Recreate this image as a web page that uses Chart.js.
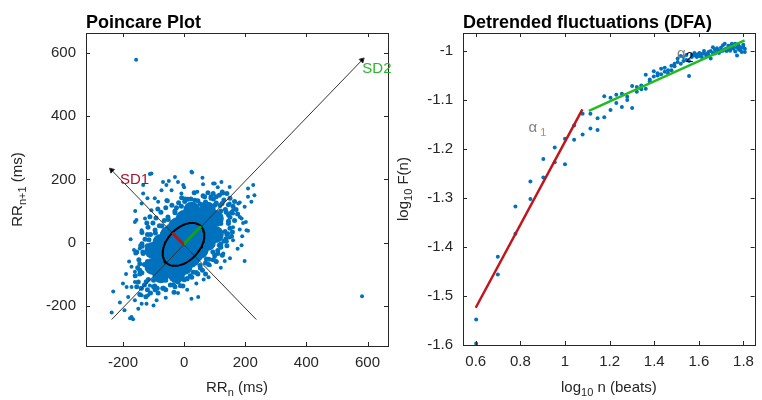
<!DOCTYPE html>
<html>
<head>
<meta charset="utf-8">
<script src="https://cdn.jsdelivr.net/npm/chart.js@4.4.0/dist/chart.umd.min.js"></script>
<style>
body { margin: 0; background: #fff; width: 762px; height: 400px; position: relative; overflow: hidden; }
#poincare { position: absolute; left: 0; top: 0; }
#dfa { position: absolute; left: 390px; top: 0; }
</style>
</head>
<body>
<canvas id="poincare" width="400" height="400"></canvas>
<canvas id="dfa" width="372" height="400"></canvas>
<script>
// ---- Poincare plot data (ms) ----
// solid centre of the cloud
var coreRRn  = [-76, -102, -25, -51, -76, -102, 0, -25, -51, -76, 25, 0, -25, -51, 51, 25, 0, -25, 76, 51, 25, 0, 102, 76, 51, 25, 102, 76];
var coreRRn1 = [-102, -76, -102, -76, -51, -25, -76, -51, -25, 0, -51, -25, 0, 25, -25, 0, 25, 51, 0, 25, 51, 76, 25, 51, 76, 102, 76, 102];
// speckled fringe of the cloud
var ringRRn  = [130, 145, 115, 150, 160, 125, 140, 165, 105, 135, 155, 170, 95, 150, 165, 145, 175, 120,
                150, 140, 130, 120, 110, 95, 80, 60, 125, 140, 155, 105, 70, 45,
                20, 0, -20, -45, -70, -95, -120, -140, -150, -130, -110, -85, -60, -30, -145, -125, -155, -100,
                -145, -152, -148, -135, -142, -128, -138, -118, -102, -92, -112, -76, -60, -40, -18, 2, 22, 45, 62, -55, -86, -122, -155, -160, -130, -120,
                70, 88, 25, 52, 78, -8, 105,
                -138, -110, -81, -53, -25, 4, -4, 25, 53, 81, 110, 138, 88, 145, 124, -88, -145, -124,
                -120, -95, -65, -30, 10, 40, 70, 100, 120, -100, 100, 60, -60, 120, -120,
                -158, -137, -115, -94, -73, -52, -30, -9, 12, 33,
                -33, -12, 9, 30, 52, 73, 94, 115, 137, 158,
                -134, -113, -92, -71, -50, -28, -7, 14, 35,
                -35, -14, 7, 28, 50, 71, 92, 113, 134,
                138, 96, 117, -138, -96, -117, 67, 145, -67, -145];
var ringRRn1 = [135, 120, 150, 140, 115, 160, 155, 130, 145, 105, 95, 105, 155, 80, 70, 60, 90, 100,
                45, 25, 5, -15, -35, -55, -70, -88, -40, -10, 20, -60, -100, -100,
                -105, -118, -125, -135, -145, -150, -150, -145, -125, -135, -160, -160, -150, -140, -165, -172, -140, -140,
                -100, -80, -55, -30, -10, 10, 32, 48, 62, 78, 82, 96, 110, 118, 126, 130, 138, 132, 148, 132, 106, 62, -30, -105, -70, 25,
                128, 140, 112, 122, 158, 142, 125,
                -4, 25, 53, 81, 110, 138, -138, -110, -81, -53, -25, 4, 145, 88, 124, -145, -88, -124,
                -10, 40, 70, 100, -115, -95, -65, -40, -5, -120, 118, 120, -120, 60, -60,
                -33, -12, 9, 30, 52, 73, 94, 115, 137, 158,
                -158, -137, -115, -94, -73, -52, -30, -9, 12, 33,
                -35, -14, 7, 28, 50, 71, 92, 113, 134,
                -134, -113, -92, -71, -50, -28, -7, 14, 35,
                96, 138, 117, -96, -138, -117, 145, 67, -145, -67];
// scattered beats and outliers
var sparseRRn  = [-112, -69, -58, -30, -20, -3, -134, -96, -85, -58, -156, -128, -139, -74, -41, -9, -107,
                  26, 62, 100, 128, 43, 149, 182, 209, 220, 198, 160, 188, 193, 160, 182, 209, 144, 149,
                  -164, -145, -172, -161, -232, -188, -183, -161, -139, -123, -139, -118, -90, -237, -172, -167, -139, -161, -112,
                  188, 133, 198, 106, 64, 46, 24, 160, 128, 100, 84,
                  209, 226, 204, 24, 95, 182, 202, -161, -107, -134, -139, -172, -177,
                  122, 149, 177, 160, 122, -190, -200, -150, -100, -60, -20, 10, 40, 80, 120, 150, 175, 190,
                  -180, -175, -160, -120, -50, 60, 110, 230, -210, -195, 0,
                  -157, 582];
var sparseRRn1 = [217, 192, 182, 208, 192, 182, 155, 140, 129, 134, 71, 76, 39, 166, 166, 155, 102,
                  222, 185, 187, 155, 161, 124, 127, 145, 129, 113, 103, 76, 62, 48, 41, 37, 29, 16,
                  -24, -19, -77, -93, -155, -141, -173, -183, -194, -194, -167, -167, -183, -222, -236, -243, -146, -125, -136,
                  -9, -59, -59, -61, -117, -173, -178, 7, -35, -46, -72,
                  171, 182, 39, 224, 187, 81, 65, 65, 219, 182, 124, -141, -240,
                  155, 176, 124, 92, 192, -100, -130, -210, -200, -175, -160, -150, -130, -110, -80, -50, -20, 20,
                  -60, 10, 100, 140, 195, 205, 175, 150, -190, -215, 175,
                  579, -170];
var poincareTicks = [-200, 0, 200, 400, 600];
var ellCentre = [-2, -6];
var sd1 = 52, sd2 = 81;
var sd1AxisRRn = [236, -237], sd1AxisRRn1 = [-244, 229];
var sd2AxisRRn = [-237, 582], sd2AxisRRn1 = [-244, 578];

// ---- DFA data ----
var dfaLogN = [0.602, 0.602, 0.699, 0.699, 0.778, 0.778, 0.845, 0.845, 0.903, 0.903, 0.954, 0.954, 1.0, 1.0,
  1.041, 1.041, 1.079, 1.079, 1.114, 1.114, 1.146, 1.146, 1.176, 1.176, 1.204, 1.204, 1.230, 1.230, 1.255, 1.255,
  1.279, 1.279, 1.301, 1.301, 1.322, 1.322, 1.342, 1.342, 1.362, 1.362, 1.380, 1.380, 1.398, 1.398, 1.415, 1.415,
  1.431, 1.431, 1.447, 1.447, 1.462, 1.462, 1.477, 1.477, 1.491, 1.491, 1.505, 1.505, 1.519, 1.519, 1.531, 1.531,
  1.544, 1.544, 1.556, 1.556, 1.568, 1.568, 1.580, 1.580, 1.591, 1.591, 1.602, 1.602, 1.613, 1.613, 1.623, 1.623,
  1.633, 1.633, 1.643, 1.643, 1.653, 1.653, 1.663, 1.663, 1.672, 1.672, 1.681, 1.681, 1.690, 1.690, 1.699, 1.699,
  1.708, 1.708, 1.716, 1.716, 1.724, 1.724, 1.732, 1.732, 1.740, 1.740, 1.748, 1.748, 1.756, 1.756, 1.763, 1.763,
  1.771, 1.771, 1.778, 1.778, 1.785, 1.785, 1.792, 1.792, 1.799, 1.799, 1.806, 1.806];
var dfaLogF = [-1.548, -1.597, -1.420, -1.456, -1.317, -1.373, -1.266, -1.302, -1.220, -1.258, -1.197, -1.227, -1.179, -1.231,
  -1.152, -1.181, -1.128, -1.170, -1.128, -1.158, -1.137, -1.161, -1.092, -1.135, -1.095, -1.120, -1.089, -1.106, -1.087, -1.114,
  -1.100, -1.093, -1.071, -1.116, -1.073, -1.083, -1.070, -1.078, -1.048, -1.077, -1.058, -1.062, -1.041, -1.052, -1.050, -1.045,
  -1.036, -1.047, -1.034, -1.042, -1.039, -1.045, -1.039, -1.030, -1.031, -1.026, -1.022, -1.015, -1.026, -1.010, -1.012, -1.020,
  -1.008, -1.018, -1.051, -1.020, -1.012, -1.008, -1.009, -1.004, -1.007, -1.012, -1.010, -1.004, -1.006, -1.012, -1.005, -1.000,
  -1.006, -1.010, -1.002, -1.008, -1.015, -1.000, -0.992, -1.004, -1.005, -0.997, -1.002, -0.994, -0.999, -1.004, -0.993, -1.000,
  -0.999, -0.988, -0.985, -0.996, -0.995, -1.000, -0.989, -0.996, -0.989, -0.999, -0.985, -0.994, -0.995, -0.988, -0.985, -1.001,
  -1.009, -0.992, -0.989, -0.996, -0.992, -0.998, -0.993, -1.002, -0.992, -0.987, -1.002, -0.995];
var alpha1LogN = [0.6, 1.078], alpha1LogF = [-1.524, -1.119];
var alpha2LogN = [1.107, 1.805], alpha2LogF = [-1.122, -0.978];
var dfaXTicks = [0.6, 0.8, 1, 1.2, 1.4, 1.6, 1.8];
var dfaYTicks = [-1.6, -1.5, -1.4, -1.3, -1.2, -1.1, -1];

Chart.defaults.font.family = "'Liberation Sans', Arial, sans-serif";
Chart.defaults.font.size = 15;
Chart.defaults.color = '#262626';
var BLUE = '#0072BD';
var FONT = "'Liberation Sans', Arial, sans-serif";

function xy(xs, ys) { return xs.map(function (v, i) { return { x: v, y: ys[i] }; }); }

function axis(min, max, ticks, size, isX) {
  return {
    type: 'linear', min: min, max: max,
    grid: { display: false, drawTicks: false },
    border: { display: false },
    afterBuildTicks: function (s) { s.ticks = ticks.map(function (v) { return { value: v }; }); },
    afterFit: function (s) { if (isX) s.height = size; else s.width = size; },
    ticks: { padding: isX ? 8 : 10, maxRotation: 0, autoSkip: false, callback: function (v) { return String(v); } }
  };
}

function richText(ctx, parts, x, y, rot) {
  ctx.save();
  ctx.translate(x, y);
  ctx.rotate(rot || 0);
  ctx.textBaseline = 'middle';
  ctx.textAlign = 'left';
  var w = 0;
  parts.forEach(function (p) { ctx.font = p.f; p.w = ctx.measureText(p.t).width; w += p.w; });
  var cx = parts.left ? 0 : -w / 2;
  parts.forEach(function (p) {
    ctx.font = p.f; ctx.fillStyle = p.c || '#262626';
    ctx.fillText(p.t, cx, p.dy || 0); cx += p.w;
  });
  ctx.restore();
}
function main(t, c) { return { t: t, f: '15px ' + FONT, c: c }; }
function sub(t, c) { return { t: t, f: '11px ' + FONT, c: c, dy: 5 }; }

// box and inward tick marks, title, axis titles
function decor(title, xTitle, yTitle, yTitleX) {
  return {
    id: 'decor',
    afterDatasetsDraw: function (chart) {
      var a = chart.chartArea, ctx = chart.ctx, xs = chart.scales.x, ys = chart.scales.y;
      ctx.save();
      ctx.strokeStyle = '#262626';
      ctx.lineWidth = 1;
      ctx.strokeRect(Math.round(a.left) + 0.5, Math.round(a.top) + 0.5, Math.round(a.right - a.left), Math.round(a.bottom - a.top));
      ctx.beginPath();
      xs.ticks.forEach(function (t) {
        var p = Math.round(xs.getPixelForValue(t.value)) + 0.5;
        ctx.moveTo(p, a.bottom); ctx.lineTo(p, a.bottom - 4);
        ctx.moveTo(p, a.top); ctx.lineTo(p, a.top + 4);
      });
      ys.ticks.forEach(function (t) {
        var p = Math.round(ys.getPixelForValue(t.value)) + 0.5;
        ctx.moveTo(a.left, p); ctx.lineTo(a.left + 4, p);
        ctx.moveTo(a.right, p); ctx.lineTo(a.right - 4, p);
      });
      ctx.stroke();
      ctx.fillStyle = '#000';
      ctx.font = 'bold 18px ' + FONT;
      ctx.textBaseline = 'alphabetic';
      ctx.fillText(title, a.left, 28);
      ctx.restore();
      richText(ctx, xTitle, (a.left + a.right) / 2, 387.5, 0);
      richText(ctx, yTitle, yTitleX, (a.top + a.bottom) / 2, -Math.PI / 2);
    }
  };
}

// ellipse drawn from SD1 / SD2
var ellPts = [];
for (var k = 0; k <= 72; k++) {
  var t = k / 72 * 2 * Math.PI, u = sd2 * Math.cos(t), v = sd1 * Math.sin(t);
  ellPts.push({ x: ellCentre[0] + (u - v) / Math.SQRT2, y: ellCentre[1] + (u + v) / Math.SQRT2 });
}
var sd1Seg = [{ x: ellCentre[0], y: ellCentre[1] }, { x: ellCentre[0] - sd1 / Math.SQRT2, y: ellCentre[1] + sd1 / Math.SQRT2 }];
var sd2Seg = [{ x: ellCentre[0], y: ellCentre[1] }, { x: ellCentre[0] + sd2 / Math.SQRT2, y: ellCentre[1] + sd2 / Math.SQRT2 }];

var poincareText = {
  id: 'poincareText',
  afterDatasetsDraw: function (chart) {
    var ctx = chart.ctx, xs = chart.scales.x, ys = chart.scales.y;
    ctx.save();
    ctx.font = '15px ' + FONT;
    ctx.textBaseline = 'middle';
    ctx.fillStyle = '#A2142F';
    ctx.fillText('SD1', xs.getPixelForValue(-210), ys.getPixelForValue(200));
    ctx.fillStyle = '#2DB52D';
    ctx.fillText('SD2', xs.getPixelForValue(583), ys.getPixelForValue(550));
    ctx.restore();
  }
};

function lineSet(data, color, width, order) {
  return { data: data, showLine: true, borderColor: color, backgroundColor: color, borderWidth: width,
           pointRadius: 0, pointHoverRadius: 0, tension: 0, fill: false, order: order };
}
function dotSet(data, r, order) {
  return { data: data, backgroundColor: BLUE, borderWidth: 0, pointRadius: r, pointHoverRadius: r, order: order };
}

var sd2Arrow = lineSet(xy(sd2AxisRRn, sd2AxisRRn1), '#333333', 1, 3);
sd2Arrow.pointRadius = [0, 3]; sd2Arrow.pointStyle = 'triangle'; sd2Arrow.pointRotation = [0, 45]; sd2Arrow.backgroundColor = '#000';
var sd1Arrow = lineSet(xy(sd1AxisRRn, sd1AxisRRn1), '#333333', 1, 3);
sd1Arrow.pointRadius = [0, 3]; sd1Arrow.pointStyle = 'triangle'; sd1Arrow.pointRotation = [0, -45]; sd1Arrow.backgroundColor = '#000';

new Chart(document.getElementById('poincare'), {
  type: 'scatter',
  data: {
    datasets: [
      lineSet(sd1Seg, '#B01818', 3, 0),
      lineSet(sd2Seg, '#16A016', 3, 0),
      lineSet(ellPts, '#000000', 2, 1),
      sd2Arrow, sd1Arrow,
      dotSet(xy(coreRRn, coreRRn1), 8.5, 10),
      dotSet(xy(ringRRn, ringRRn1), 2.5, 11),
      dotSet(xy(sparseRRn, sparseRRn1), 2, 12)
    ]
  },
  options: {
    responsive: false, animation: false, events: [],
    layout: { padding: { left: 0, right: 12, top: 33, bottom: 0 } },
    plugins: { legend: { display: false }, tooltip: { enabled: false } },
    scales: {
      x: axis(-321, 667, poincareTicks, 54, true),
      y: axis(-328, 664, poincareTicks, 86, false)
    }
  },
  plugins: [decor('Poincare Plot', [main('RR'), sub('n'), main(' (ms)')], [main('RR'), sub('n+1'), main(' (ms)')], 18), poincareText]
});

var dfaText = {
  id: 'dfaText',
  afterDatasetsDraw: function (chart) {
    var ctx = chart.ctx, xs = chart.scales.x, ys = chart.scales.y;
    var a1 = [main('\u03B1', '#808080'), sub(' 1', '#D98A2E')]; a1.left = true;
    var a2 = [main('\u03B1', '#808080'), { t: '2', f: '14px ' + FONT, c: '#000', dy: 5 }]; a2.left = true;
    richText(ctx, a1, xs.getPixelForValue(0.837), ys.getPixelForValue(-1.156), 0);
    richText(ctx, a2, xs.getPixelForValue(1.502), ys.getPixelForValue(-1.005), 0);
  }
};

new Chart(document.getElementById('dfa'), {
  type: 'scatter',
  data: {
    datasets: [
      lineSet(xy(alpha1LogN, alpha1LogF), '#C0161B', 2.5, 0),
      lineSet(xy(alpha2LogN, alpha2LogF), '#22BB22', 2.5, 0),
      dotSet(xy(dfaLogN, dfaLogF), 2, 5)
    ]
  },
  options: {
    responsive: false, animation: false, events: [],
    layout: { padding: { left: 0, right: 1, top: 33, bottom: 0 } },
    plugins: { legend: { display: false }, tooltip: { enabled: false } },
    scales: {
      x: axis(0.543, 1.850, dfaXTicks, 55, true),
      y: axis(-1.6, -0.963, dfaYTicks, 73, false)
    }
  },
  plugins: [decor('Detrended fluctuations (DFA)', [main('log'), sub('10'), main(' n (beats)')], [main('log'), sub('10'), main(' F(n)')], 14), dfaText]
});
</script>
</body>
</html>
